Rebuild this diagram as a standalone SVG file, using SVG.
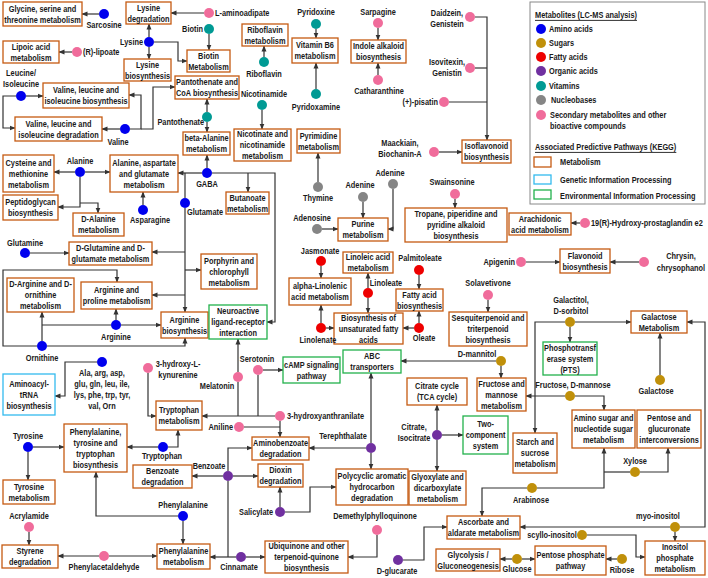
<svg xmlns="http://www.w3.org/2000/svg" width="708" height="578" viewBox="0 0 708 578">
<style>
text{font-family:"Liberation Sans",Arial,sans-serif;font-weight:bold;font-size:9px;fill:#1a1a1a;dominant-baseline:central;transform-box:fill-box;transform-origin:50% 50%;transform:scaleX(0.82)}
.m{text-anchor:middle}.e{text-anchor:end;transform-origin:100% 50%}.s{transform-origin:0% 50%}
.b{fill:#fff;stroke:#c55a11;stroke-width:1.3}
.g{fill:#fff;stroke:#22b14c;stroke-width:1.3}
.c{fill:#fff;stroke:#33bbee;stroke-width:1.3}
#conn polyline,#conn line{fill:none;stroke:#333;stroke-width:1.2}
.a{marker-end:url(#ah)}
.aa{fill:#0000ee}.su{fill:#c0900a}.fa{fill:#ee0000}.oa{fill:#7030a0}.vi{fill:#009a94}.nu{fill:#858585}.se{fill:#f06c9b}
</style>
<defs>
<marker id="ah" markerWidth="6" markerHeight="6" refX="5.5" refY="3" orient="auto" markerUnits="userSpaceOnUse"><path d="M0,0.5 L6,3 L0,5.5 z" fill="#333"/></marker>
</defs>
<rect width="708" height="578" fill="#fff"/>

<g id="conn">
<line class="a" x1="99" y1="14" x2="82" y2="14"/>
<line class="a" x1="204" y1="13" x2="171" y2="13"/>
<line class="a" x1="149" y1="37" x2="149" y2="24"/>
<line class="a" x1="149" y1="47" x2="149" y2="59"/>
<polyline class="a" points="154,42 178,42 178,61 187,61"/>
<line class="a" x1="209" y1="34" x2="209" y2="50"/>
<line class="a" x1="72" y1="52" x2="59" y2="52"/>
<line class="a" x1="264" y1="57" x2="264" y2="46"/>
<line class="a" x1="316" y1="29" x2="316" y2="38"/>
<line class="a" x1="316" y1="89" x2="316" y2="63"/>
<line class="a" x1="262" y1="110" x2="262" y2="129"/>
<line class="a" x1="378" y1="28" x2="378" y2="40"/>
<line class="a" x1="378" y1="75" x2="378" y2="63"/>
<polyline class="a" points="475,17 487,17 487,140"/>
<line x1="475" y1="68" x2="487" y2="68"/>
<line x1="449" y1="102" x2="487" y2="102"/>
<line class="a" x1="439" y1="152" x2="462" y2="152"/>
<line class="a" x1="26" y1="96" x2="43" y2="96"/>
<polyline class="a" points="16,96 3,96 3,128 15,128"/>
<line class="a" x1="120" y1="129" x2="102" y2="129"/>
<polyline class="a" points="130,129 141,129 141,95 129,95"/>
<polyline class="a" points="141,129 153,129 153,87 175,87"/>
<line class="a" x1="207" y1="112" x2="207" y2="99"/>
<line class="a" x1="207" y1="122" x2="207" y2="132"/>
<line class="a" x1="207" y1="168" x2="207" y2="155"/>
<line class="a" x1="202" y1="173" x2="178" y2="173"/>
<polyline class="a" points="212,173 275,173 275,322 267,322"/>
<line class="a" x1="248" y1="173" x2="248" y2="192"/>
<line x1="185" y1="173" x2="185" y2="198"/>
<line class="a" x1="185" y1="208" x2="185" y2="312"/>
<line class="a" x1="185" y1="252" x2="152" y2="252"/>
<line class="a" x1="185" y1="270" x2="201" y2="270"/>
<line class="a" x1="185" y1="295" x2="152" y2="295"/>
<line class="a" x1="75" y1="172" x2="54" y2="172"/>
<line class="a" x1="85" y1="172" x2="110" y2="172"/>
<polyline class="a" points="80,177 80,207 58,207"/>
<polyline class="a" points="80,203 98,203 98,213"/>
<line class="a" x1="143" y1="205" x2="143" y2="192"/>
<line class="a" x1="30" y1="253" x2="69" y2="253"/>
<line class="a" x1="42" y1="341" x2="42" y2="312"/>
<polyline class="a" points="47,346 185,346 185,338"/>
<polyline class="a" points="37,346 3,346 3,270 117,270 117,282"/>
<line x1="111" y1="325" x2="42" y2="325"/>
<line class="a" x1="121" y1="325" x2="161" y2="325"/>
<line class="a" x1="116" y1="320" x2="116" y2="309"/>
<line class="a" x1="318" y1="182" x2="318" y2="153"/>
<line class="a" x1="363" y1="202" x2="363" y2="218"/>
<polyline class="a" points="393,189 393,229 388,229"/>
<line class="a" x1="322" y1="229" x2="338" y2="229"/>
<line class="a" x1="455" y1="199" x2="455" y2="208"/>
<line class="a" x1="580" y1="223" x2="571" y2="223"/>
<line class="a" x1="526" y1="262" x2="560" y2="262"/>
<line class="a" x1="639" y1="262" x2="610" y2="262"/>
<line class="a" x1="321" y1="266" x2="321" y2="278"/>
<line class="a" x1="321" y1="323" x2="321" y2="305"/>
<line class="a" x1="326" y1="328" x2="334" y2="328"/>
<line class="a" x1="368" y1="288" x2="368" y2="273"/>
<line class="a" x1="368" y1="298" x2="368" y2="313"/>
<line class="a" x1="419" y1="275" x2="419" y2="289"/>
<line class="a" x1="419" y1="323" x2="419" y2="311"/>
<line class="a" x1="414" y1="328" x2="403" y2="328"/>
<line class="a" x1="488" y1="300" x2="488" y2="312"/>
<line class="a" x1="575" y1="322" x2="631" y2="322"/>
<line class="a" x1="570" y1="327" x2="570" y2="342"/>
<polyline class="a" points="565,322 535,322 535,433"/>
<line class="a" x1="263" y1="370" x2="283" y2="370"/>
<line class="a" x1="238" y1="372" x2="238" y2="339"/>
<line x1="258" y1="375" x2="258" y2="416"/>
<line x1="238" y1="382" x2="238" y2="416"/>
<line class="a" x1="275" y1="416" x2="202" y2="416"/>
<line class="a" x1="280" y1="421" x2="280" y2="437"/>
<line x1="244" y1="427" x2="280" y2="427"/>
<line class="a" x1="496" y1="361" x2="401" y2="361"/>
<line class="a" x1="501" y1="366" x2="501" y2="378"/>
<line class="a" x1="565" y1="396" x2="526" y2="396"/>
<polyline class="a" points="575,396 604,396 604,410"/>
<line class="a" x1="660" y1="375" x2="660" y2="333"/>
<line x1="630" y1="472" x2="604" y2="472"/>
<polyline class="a" points="640,472 668,472 668,448"/>
<polyline class="a" points="537,488 604,488 604,448"/>
<polyline class="a" points="527,488 482,488 482,516"/>
<line class="a" x1="670" y1="527" x2="520" y2="527"/>
<polyline class="a" points="680,527 705,527 705,322 687,322"/>
<line class="a" x1="675" y1="532" x2="675" y2="541"/>
<polyline class="a" points="587,535 636,535 636,557 645,557"/>
<line class="a" x1="437" y1="430" x2="437" y2="405"/>
<line class="a" x1="437" y1="440" x2="437" y2="471"/>
<line class="a" x1="442" y1="435" x2="463" y2="435"/>
<line class="a" x1="371" y1="443" x2="371" y2="373"/>
<line class="a" x1="366" y1="448" x2="309" y2="448"/>
<line class="a" x1="371" y1="453" x2="371" y2="469"/>
<line class="a" x1="223" y1="476" x2="192" y2="476"/>
<line class="a" x1="233" y1="476" x2="258" y2="476"/>
<polyline class="a" points="228,471 228,448 252,448"/>
<line x1="228" y1="481" x2="228" y2="557"/>
<line class="a" x1="280" y1="507" x2="280" y2="487"/>
<polyline class="a" points="285,512 310,512 310,487 336,487"/>
<line class="a" x1="236" y1="557" x2="210" y2="557"/>
<line class="a" x1="246" y1="557" x2="265" y2="557"/>
<polyline class="a" points="377,535 377,557 348,557"/>
<polyline class="a" points="403,560 424,560 424,527 447,527"/>
<line class="a" x1="512" y1="559" x2="500" y2="559"/>
<line class="a" x1="522" y1="559" x2="535" y2="559"/>
<line class="a" x1="617" y1="559" x2="606" y2="559"/>
<line class="a" x1="33" y1="447" x2="64" y2="447"/>
<line class="a" x1="28" y1="452" x2="28" y2="480"/>
<line class="a" x1="158" y1="447" x2="127" y2="447"/>
<polyline class="a" points="168,447 178,447 178,430"/>
<polyline class="a" points="148,373 148,416 156,416"/>
<polyline class="a" points="97,362 65,362 65,396 55,396"/>
<polyline class="a" points="178,516 96,516 96,472"/>
<line class="a" x1="183" y1="521" x2="183" y2="544"/>
<line class="a" x1="29" y1="532" x2="29" y2="545"/>
<line class="a" x1="99" y1="556" x2="58" y2="556"/>
<line class="a" x1="109" y1="556" x2="157" y2="556"/>
</g>

<g id="glycine"><rect class="b" x="3" y="2" width="79" height="24"/><text class="m"><tspan x="42.5" y="8.5">Glycine, serine and</tspan><tspan x="42.5" y="19.5">threonine metabolism</tspan></text></g>
<g id="lysdeg"><rect class="b" x="126" y="2" width="45" height="22"/><text class="m"><tspan x="148.5" y="7.5">Lysine</tspan><tspan x="148.5" y="18.5">degradation</tspan></text></g>
<g id="lipoic"><rect class="b" x="3" y="41" width="56" height="22"/><text class="m"><tspan x="31" y="46.5">Lipoic acid</tspan><tspan x="31" y="57.5">metabolism</tspan></text></g>
<g id="lysbio"><rect class="b" x="124" y="59" width="47" height="22"/><text class="m"><tspan x="147.5" y="64.5">Lysine</tspan><tspan x="147.5" y="75.5">biosynthesis</tspan></text></g>
<g id="biotinmet"><rect class="b" x="187" y="50" width="43" height="22"/><text class="m"><tspan x="208.5" y="55.5">Biotin</tspan><tspan x="208.5" y="66.5">Metabolism</tspan></text></g>
<g id="ribomet"><rect class="b" x="242" y="24" width="46" height="22"/><text class="m"><tspan x="265" y="29.5">Riboflavin</tspan><tspan x="265" y="40.5">metabolism</tspan></text></g>
<g id="vitb6"><rect class="b" x="292" y="38" width="46" height="25"/><text class="m"><tspan x="315" y="45">Vitamin B6</tspan><tspan x="315" y="56">metabolism</tspan></text></g>
<g id="indole"><rect class="b" x="351" y="40" width="55" height="23"/><text class="m"><tspan x="378.5" y="46">Indole alkaloid</tspan><tspan x="378.5" y="57">biosynthesis</tspan></text></g>
<g id="isoflav"><rect class="b" x="462" y="140" width="49" height="23"/><text class="m"><tspan x="486.5" y="146">Isoflavonoid</tspan><tspan x="486.5" y="157">biosynthesis</tspan></text></g>
<g id="valbio"><rect class="b" x="43" y="83" width="86" height="25"/><text class="m"><tspan x="86" y="90">Valine, leucine and</tspan><tspan x="86" y="101">isoleucine biosynthesis</tspan></text></g>
<g id="valdeg"><rect class="b" x="15" y="117" width="87" height="24"/><text class="m"><tspan x="58.5" y="123.5">Valine, leucine and</tspan><tspan x="58.5" y="134.5">isoleucine degradation</tspan></text></g>
<g id="panto"><rect class="b" x="175" y="76" width="64" height="23"/><text class="m"><tspan x="207" y="82">Pantothenate and</tspan><tspan x="207" y="93">CoA biosynthesis</tspan></text></g>
<g id="betaala"><rect class="b" x="183" y="132" width="47" height="23"/><text class="m"><tspan x="206.5" y="138">beta-Alanine</tspan><tspan x="206.5" y="149">metabolism</tspan></text></g>
<g id="nicotinate"><rect class="b" x="234" y="129" width="57" height="32"/><text class="m"><tspan x="262.5" y="134">Nicotinate and</tspan><tspan x="262.5" y="145">nicotinamide</tspan><tspan x="262.5" y="156">metabolism</tspan></text></g>
<g id="pyrimidine"><rect class="b" x="297" y="129" width="43" height="24"/><text class="m"><tspan x="318.5" y="135.5">Pyrimidine</tspan><tspan x="318.5" y="146.5">metabolism</tspan></text></g>
<g id="cysteine"><rect class="b" x="3" y="155" width="51" height="37"/><text class="m"><tspan x="28.5" y="162.5">Cysteine and</tspan><tspan x="28.5" y="173.5">methionine</tspan><tspan x="28.5" y="184.5">metabolism</tspan></text></g>
<g id="alaasp"><rect class="b" x="110" y="155" width="68" height="37"/><text class="m"><tspan x="144" y="162.5">Alanine, aspartate</tspan><tspan x="144" y="173.5">and glutamate</tspan><tspan x="144" y="184.5">metabolism</tspan></text></g>
<g id="peptido"><rect class="b" x="3" y="195" width="55" height="25"/><text class="m"><tspan x="30.5" y="202">Peptidoglycan</tspan><tspan x="30.5" y="213">biosynthesis</tspan></text></g>
<g id="dala"><rect class="b" x="73" y="213" width="51" height="23"/><text class="m"><tspan x="98.5" y="219">D-Alanine</tspan><tspan x="98.5" y="230">metabolism</tspan></text></g>
<g id="butanoate"><rect class="b" x="226" y="192" width="43" height="22"/><text class="m"><tspan x="247.5" y="197.5">Butanoate</tspan><tspan x="247.5" y="208.5">metabolism</tspan></text></g>
<g id="purine"><rect class="b" x="338" y="218" width="50" height="23"/><text class="m"><tspan x="363" y="224">Purine</tspan><tspan x="363" y="235">metabolism</tspan></text></g>
<g id="tropane"><rect class="b" x="405" y="208" width="102" height="34"/><text class="m"><tspan x="456" y="214">Tropane, piperidine and</tspan><tspan x="456" y="225">pyridine alkaloid</tspan><tspan x="456" y="236">biosynthesis</tspan></text></g>
<g id="arachidonic"><rect class="b" x="509" y="213" width="62" height="22"/><text class="m"><tspan x="540" y="218.5">Arachidonic</tspan><tspan x="540" y="229.5">acid metabolism</tspan></text></g>
<g id="dglutamine"><rect class="b" x="69" y="242" width="83" height="23"/><text class="m"><tspan x="110.5" y="248">D-Glutamine and D-</tspan><tspan x="110.5" y="259">glutamate metabolism</tspan></text></g>
<g id="linoleic"><rect class="b" x="343" y="252" width="50" height="21"/><text class="m"><tspan x="368" y="257">Linoleic acid</tspan><tspan x="368" y="268">metabolism</tspan></text></g>
<g id="flavonoid"><rect class="b" x="560" y="249" width="50" height="24"/><text class="m"><tspan x="585" y="255.5">Flavonoid</tspan><tspan x="585" y="266.5">biosynthesis</tspan></text></g>
<g id="porphyrin"><rect class="b" x="201" y="254" width="56" height="35"/><text class="m"><tspan x="229" y="260.5">Porphyrin and</tspan><tspan x="229" y="271.5">chlorophyll</tspan><tspan x="229" y="282.5">metabolism</tspan></text></g>
<g id="darginine"><rect class="b" x="7" y="278" width="67" height="34"/><text class="m"><tspan x="40.5" y="284">D-Arginine and D-</tspan><tspan x="40.5" y="295">ornithine</tspan><tspan x="40.5" y="306">metabolism</tspan></text></g>
<g id="argpro"><rect class="b" x="81" y="282" width="71" height="27"/><text class="m"><tspan x="116.5" y="290">Arginine and</tspan><tspan x="116.5" y="301">proline metabolism</tspan></text></g>
<g id="alphalin"><rect class="b" x="289" y="278" width="62" height="27"/><text class="m"><tspan x="320" y="286">alpha-Linolenic</tspan><tspan x="320" y="297">acid metabolism</tspan></text></g>
<g id="fattyacid"><rect class="b" x="396" y="289" width="47" height="22"/><text class="m"><tspan x="419.5" y="294.5">Fatty acid</tspan><tspan x="419.5" y="305.5">biosynthesis</tspan></text></g>
<g id="sesqui"><rect class="b" x="449" y="312" width="78" height="34"/><text class="m"><tspan x="488" y="318">Sesquiterpenoid and</tspan><tspan x="488" y="329">triterpenoid</tspan><tspan x="488" y="340">biosynthesis</tspan></text></g>
<g id="galactosemet"><rect class="b" x="631" y="311" width="56" height="22"/><text class="m"><tspan x="659" y="316.5">Galactose</tspan><tspan x="659" y="327.5">Metabolism</tspan></text></g>
<g id="argbio"><rect class="b" x="161" y="312" width="47" height="26"/><text class="m"><tspan x="184.5" y="319.5">Arginine</tspan><tspan x="184.5" y="330.5">biosynthesis</tspan></text></g>
<g id="neuro"><rect class="g" x="209" y="305" width="58" height="34"/><text class="m"><tspan x="238" y="311">Neuroactive</tspan><tspan x="238" y="322">ligand-receptor</tspan><tspan x="238" y="333">interaction</tspan></text></g>
<g id="unsat"><rect class="b" x="334" y="313" width="69" height="31"/><text class="m"><tspan x="368.5" y="317.5">Biosynthesis of</tspan><tspan x="368.5" y="328.5">unsaturated fatty</tspan><tspan x="368.5" y="339.5">acids</tspan></text></g>
<g id="pts"><rect class="g" x="543" y="342" width="54" height="33"/><text class="m"><tspan x="570" y="347.5">Phosphotransf</tspan><tspan x="570" y="358.5">erase system</tspan><tspan x="570" y="369.5">(PTS)</tspan></text></g>
<g id="abc"><rect class="g" x="343" y="350" width="58" height="23"/><text class="m"><tspan x="372" y="356">ABC</tspan><tspan x="372" y="367">transporters</tspan></text></g>
<g id="camp"><rect class="g" x="283" y="357" width="57" height="26"/><text class="m"><tspan x="311.5" y="364.5">cAMP signaling</tspan><tspan x="311.5" y="375.5">pathway</tspan></text></g>
<g id="aminoacyl"><rect class="c" x="3" y="374" width="52" height="41"/><text class="m"><tspan x="29" y="383.5">Aminoacyl-</tspan><tspan x="29" y="394.5">tRNA</tspan><tspan x="29" y="405.5">biosynthesis</tspan></text></g>
<g id="tca"><rect class="b" x="407" y="378" width="60" height="27"/><text class="m"><tspan x="437" y="386">Citrate cycle</tspan><tspan x="437" y="397">(TCA cycle)</tspan></text></g>
<g id="fructosemet"><rect class="b" x="477" y="378" width="49" height="33"/><text class="m"><tspan x="501.5" y="383.5">Fructose and</tspan><tspan x="501.5" y="394.5">mannose</tspan><tspan x="501.5" y="405.5">metabolism</tspan></text></g>
<g id="trpmet"><rect class="b" x="156" y="401" width="46" height="29"/><text class="m"><tspan x="179" y="410">Tryptophan</tspan><tspan x="179" y="421">metabolism</tspan></text></g>
<g id="aminosugar"><rect class="b" x="572" y="410" width="63" height="38"/><text class="m"><tspan x="603.5" y="418">Amino sugar and</tspan><tspan x="603.5" y="429">nucleotide sugar</tspan><tspan x="603.5" y="440">metabolism</tspan></text></g>
<g id="pentose"><rect class="b" x="637" y="410" width="64" height="38"/><text class="m"><tspan x="669" y="418">Pentose and</tspan><tspan x="669" y="429">glucuronate</tspan><tspan x="669" y="440">interconversions</tspan></text></g>
<g id="twocomp"><rect class="g" x="463" y="416" width="45" height="38"/><text class="m"><tspan x="485.5" y="424">Two-</tspan><tspan x="485.5" y="435">component</tspan><tspan x="485.5" y="446">system</tspan></text></g>
<g id="phetyrtrp"><rect class="b" x="64" y="424" width="63" height="48"/><text class="m"><tspan x="95.5" y="431.5">Phenylalanine,</tspan><tspan x="95.5" y="442.5">tyrosine and</tspan><tspan x="95.5" y="453.5">tryptophan</tspan><tspan x="95.5" y="464.5">biosynthesis</tspan></text></g>
<g id="starch"><rect class="b" x="513" y="433" width="44" height="40"/><text class="m"><tspan x="535" y="442">Starch and</tspan><tspan x="535" y="453">sucrose</tspan><tspan x="535" y="464">metabolism</tspan></text></g>
<g id="aminobenzoate"><rect class="b" x="252" y="437" width="57" height="23"/><text class="m"><tspan x="280.5" y="443">Aminobenzoate</tspan><tspan x="280.5" y="454">degradation</tspan></text></g>
<g id="benzoatedeg"><rect class="b" x="133" y="465" width="59" height="23"/><text class="m"><tspan x="162.5" y="471">Benzoate</tspan><tspan x="162.5" y="482">degradation</tspan></text></g>
<g id="dioxin"><rect class="b" x="258" y="464" width="45" height="23"/><text class="m"><tspan x="280.5" y="470">Dioxin</tspan><tspan x="280.5" y="481">degradation</tspan></text></g>
<g id="polycyclic"><rect class="b" x="336" y="469" width="72" height="36"/><text class="m"><tspan x="372" y="476">Polycyclic aromatic</tspan><tspan x="372" y="487">hydrocarbon</tspan><tspan x="372" y="498">degradation</tspan></text></g>
<g id="glyoxylate"><rect class="b" x="409" y="471" width="57" height="34"/><text class="m"><tspan x="437.5" y="477">Glyoxylate and</tspan><tspan x="437.5" y="488">dicarboxylate</tspan><tspan x="437.5" y="499">metabolism</tspan></text></g>
<g id="tyrmet"><rect class="b" x="3" y="480" width="52" height="24"/><text class="m"><tspan x="29" y="486.5">Tyrosine</tspan><tspan x="29" y="497.5">metabolism</tspan></text></g>
<g id="ascorbate"><rect class="b" x="447" y="516" width="73" height="23"/><text class="m"><tspan x="483.5" y="522">Ascorbate and</tspan><tspan x="483.5" y="533">aldarate metabolism</tspan></text></g>
<g id="styrene"><rect class="b" x="2" y="545" width="56" height="23"/><text class="m"><tspan x="30" y="551">Styrene</tspan><tspan x="30" y="562">degradation</tspan></text></g>
<g id="phemet"><rect class="b" x="157" y="544" width="53" height="25"/><text class="m"><tspan x="183.5" y="551">Phenylalanine</tspan><tspan x="183.5" y="562">metabolism</tspan></text></g>
<g id="ubiquinone"><rect class="b" x="265" y="541" width="83" height="32"/><text class="m"><tspan x="306.5" y="546">Ubiquinone and other</tspan><tspan x="306.5" y="557">terpenoid-quinone</tspan><tspan x="306.5" y="568">biosynthesis</tspan></text></g>
<g id="glycolysis"><rect class="b" x="436" y="549" width="64" height="22"/><text class="m"><tspan x="468" y="554.5">Glycolysis /</tspan><tspan x="468" y="565.5">Gluconeogenesis</tspan></text></g>
<g id="ppp"><rect class="b" x="535" y="546" width="71" height="29"/><text class="m"><tspan x="570.5" y="555">Pentose phosphate</tspan><tspan x="570.5" y="566">pathway</tspan></text></g>
<g id="inositolmet"><rect class="b" x="645" y="541" width="60" height="34"/><text class="m"><tspan x="675" y="547">Inositol</tspan><tspan x="675" y="558">phosphate</tspan><tspan x="675" y="569">metabolism</tspan></text></g>

<g id="sarcosine"><circle class="aa" cx="104" cy="14" r="5"/><text class="m" x="104" y="25">Sarcosine</text></g>
<g id="laminoadipate"><circle class="se" cx="209" cy="13" r="5"/><text class="s" x="215" y="13">L-aminoadipate</text></g>
<g id="lysine"><circle class="aa" cx="149" cy="42" r="5"/><text class="e" x="143" y="42">Lysine</text></g>
<g id="biotin"><circle class="vi" cx="209" cy="29" r="5"/><text class="e" x="203" y="29">Biotin</text></g>
<g id="lipoate"><circle class="se" cx="77" cy="52" r="5"/><text class="s" x="83" y="52">(R)-lipoate</text></g>
<g id="riboflavin"><circle class="vi" cx="264" cy="62" r="5"/><text class="m" x="264" y="74">Riboflavin</text></g>
<g id="pyridoxine"><circle class="vi" cx="316" cy="24" r="5"/><text class="m" x="316" y="12">Pyridoxine</text></g>
<g id="pyridoxamine"><circle class="vi" cx="316" cy="94" r="5"/><text class="m" x="316" y="107">Pyridoxamine</text></g>
<g id="nicotinamide"><circle class="vi" cx="262" cy="105" r="5"/><text class="m" x="264" y="94">Nicotinamide</text></g>
<g id="sarpagine"><circle class="se" cx="378" cy="23" r="5"/><text class="m" x="378" y="12">Sarpagine</text></g>
<g id="catharanthine"><circle class="se" cx="378" cy="80" r="5"/><text class="m" x="379" y="91">Catharanthine</text></g>
<g id="daidzein"><circle class="se" cx="470" cy="17" r="5"/><text class="m"><tspan x="447" y="13">Daidzein,</tspan><tspan x="447" y="24">Genistein</tspan></text></g>
<g id="isovitexin"><circle class="se" cx="470" cy="68" r="5"/><text class="m"><tspan x="447" y="62">Isovitexin,</tspan><tspan x="447" y="73">Genistin</tspan></text></g>
<g id="pisatin"><circle class="se" cx="444" cy="102" r="5"/><text class="e" x="438" y="102">(+)-pisatin</text></g>
<g id="maackiain"><circle class="se" cx="434" cy="152" r="5"/><text class="m"><tspan x="400" y="143">Maackiain,</tspan><tspan x="400" y="154">Biochanin-A</tspan></text></g>
<g id="leucine"><circle class="aa" cx="21" cy="96" r="5"/><text class="m"><tspan x="21" y="73">Leucine/</tspan><tspan x="21" y="84">Isoleucine</tspan></text></g>
<g id="valine"><circle class="aa" cx="125" cy="129" r="5"/><text class="m" x="118" y="142">Valine</text></g>
<g id="pantothenate"><circle class="vi" cx="207" cy="117" r="5"/><text class="e" x="204" y="122">Pantothenate</text></g>
<g id="alanine"><circle class="aa" cx="80" cy="172" r="5"/><text class="m" x="80" y="161">Alanine</text></g>
<g id="gaba"><circle class="aa" cx="207" cy="173" r="5"/><text class="m" x="207" y="184">GABA</text></g>
<g id="glutamate"><circle class="aa" cx="185" cy="203" r="5"/><text class="m" x="205" y="212">Glutamate</text></g>
<g id="asparagine"><circle class="aa" cx="143" cy="210" r="5"/><text class="m" x="150" y="220">Asparagine</text></g>
<g id="thymine"><circle class="nu" cx="318" cy="187" r="5"/><text class="m" x="318" y="198">Thymine</text></g>
<g id="adenine1"><circle class="nu" cx="363" cy="197" r="5"/><text class="m" x="360" y="185">Adenine</text></g>
<g id="adenine2"><circle class="nu" cx="393" cy="184" r="5"/><text class="m" x="390" y="173">Adenine</text></g>
<g id="adenosine"><circle class="nu" cx="317" cy="229" r="5"/><text class="m" x="312" y="218">Adenosine</text></g>
<g id="swainsonine"><circle class="se" cx="455" cy="194" r="5"/><text class="m" x="452" y="182">Swainsonine</text></g>
<g id="prostaglandin"><circle class="se" cx="585" cy="223" r="5"/><text class="s" x="591" y="223">19(R)-Hydroxy-prostaglandin e2</text></g>
<g id="glutamine"><circle class="aa" cx="25" cy="253" r="5"/><text class="m" x="25" y="243">Glutamine</text></g>
<g id="jasmonate"><circle class="fa" cx="321" cy="261" r="5"/><text class="m" x="320" y="251">Jasmonate</text></g>
<g id="apigenin"><circle class="se" cx="521" cy="262" r="5"/><text class="e" x="515" y="262">Apigenin</text></g>
<g id="chrysin"><circle class="se" cx="644" cy="262" r="5"/><text class="m"><tspan x="681" y="256">Chrysin,</tspan><tspan x="681" y="268">chrysophanol</tspan></text></g>
<g id="palmitoleate"><circle class="fa" cx="419" cy="270" r="5"/><text class="m" x="420" y="258">Palmitoleate</text></g>
<g id="solavetivone"><circle class="se" cx="488" cy="295" r="5"/><text class="m" x="488" y="283">Solavetivone</text></g>
<g id="linoleate"><circle class="fa" cx="368" cy="293" r="5"/><text class="m" x="386" y="283">Linoleate</text></g>
<g id="galactitol"><circle class="su" cx="570" cy="322" r="5"/><text class="m"><tspan x="571" y="300">Galactitol,</tspan><tspan x="571" y="311">D-sorbitol</tspan></text></g>
<g id="arginine"><circle class="aa" cx="116" cy="325" r="5"/><text class="m" x="116" y="337">Arginine</text></g>
<g id="linolenate"><circle class="fa" cx="321" cy="328" r="5"/><text class="m" x="318" y="340">Linolenate</text></g>
<g id="oleate"><circle class="fa" cx="419" cy="328" r="5"/><text class="m" x="424" y="338">Oleate</text></g>
<g id="ornithine"><circle class="aa" cx="42" cy="346" r="5"/><text class="m" x="42" y="358">Ornithine</text></g>
<g id="serotonin"><circle class="se" cx="258" cy="370" r="5"/><text class="m" x="257" y="359">Serotonin</text></g>
<g id="dmannitol"><circle class="su" cx="501" cy="361" r="5"/><text class="m" x="477" y="354">D-mannitol</text></g>
<g id="aagroup"><circle class="aa" cx="102" cy="362" r="5"/><text class="m"><tspan x="102" y="373">Ala, arg, asp,</tspan><tspan x="102" y="384">glu, gln, leu, ile,</tspan><tspan x="102" y="395">lys, phe, trp, tyr,</tspan><tspan x="102" y="406">val, Orn</tspan></text></g>
<g id="kynurenine"><circle class="se" cx="148" cy="368" r="5"/><text class="m"><tspan x="178" y="364">3-hydroxy-L-</tspan><tspan x="178" y="375">kynurenine</tspan></text></g>
<g id="melatonin"><circle class="se" cx="238" cy="377" r="5"/><text class="m" x="217" y="386">Melatonin</text></g>
<g id="galactose"><circle class="su" cx="660" cy="380" r="5"/><text class="m" x="656" y="391">Galactose</text></g>
<g id="fructose"><circle class="su" cx="570" cy="396" r="5"/><text class="m" x="573" y="385">Fructose, D-mannose</text></g>
<g id="hydroxyanthranilate"><circle class="se" cx="280" cy="416" r="5"/><text class="s" x="287" y="416">3-hydroxyanthranilate</text></g>
<g id="aniline"><circle class="se" cx="239" cy="427" r="5"/><text class="e" x="233" y="427">Aniline</text></g>
<g id="citrate"><circle class="oa" cx="437" cy="435" r="5"/><text class="m"><tspan x="414" y="427">Citrate,</tspan><tspan x="414" y="438">Isocitrate</tspan></text></g>
<g id="terephthalate"><circle class="oa" cx="371" cy="448" r="5"/><text class="m" x="343" y="436">Terephthalate</text></g>
<g id="tyrosine"><circle class="aa" cx="28" cy="447" r="5"/><text class="m" x="28" y="436">Tyrosine</text></g>
<g id="tryptophan"><circle class="aa" cx="163" cy="447" r="5"/><text class="m" x="162" y="456">Tryptophan</text></g>
<g id="benzoate"><circle class="oa" cx="228" cy="476" r="5"/><text class="m" x="209" y="466">Benzoate</text></g>
<g id="xylose"><circle class="su" cx="635" cy="472" r="5"/><text class="m" x="635" y="461">Xylose</text></g>
<g id="arabinose"><circle class="su" cx="532" cy="488" r="5"/><text class="m" x="531" y="500">Arabinose</text></g>
<g id="phenylalanine"><circle class="aa" cx="183" cy="516" r="5"/><text class="m" x="183" y="505">Phenylalanine</text></g>
<g id="salicylate"><circle class="oa" cx="280" cy="512" r="5"/><text class="e" x="273" y="512">Salicylate</text></g>
<g id="demethyl"><circle class="se" cx="377" cy="530" r="5"/><text class="m" x="375" y="516">Demethylphylloquinone</text></g>
<g id="myoinositol"><circle class="su" cx="675" cy="527" r="5"/><text class="m" x="658" y="516">myo-inositol</text></g>
<g id="acrylamide"><circle class="se" cx="29" cy="527" r="5"/><text class="m" x="29" y="516">Acrylamide</text></g>
<g id="scyllo"><circle class="su" cx="582" cy="535" r="5"/><text class="m" x="552" y="535">scyllo-inositol</text></g>
<g id="phenylacetaldehyde"><circle class="se" cx="104" cy="556" r="5"/><text class="m" x="104" y="567">Phenylacetaldehyde</text></g>
<g id="cinnamate"><circle class="oa" cx="241" cy="557" r="5"/><text class="m" x="239" y="567">Cinnamate</text></g>
<g id="glucose"><circle class="su" cx="517" cy="559" r="5"/><text class="m" x="517" y="569">Glucose</text></g>
<g id="dglucarate"><circle class="oa" cx="398" cy="560" r="5"/><text class="m" x="397" y="571">D-glucarate</text></g>
<g id="ribose"><circle class="su" cx="622" cy="559" r="5"/><text class="m" x="622" y="570">Ribose</text></g>

<g id="legend">
<rect x="530" y="2" width="175" height="202" fill="#fff" stroke="#888" stroke-width="1"/>
<text class="s" x="535" y="15" text-decoration="underline">Metabolites (LC-MS analysis)</text>
<circle class="aa" cx="541" cy="29" r="5"/><text class="s" x="549" y="29">Amino acids</text>
<circle class="su" cx="541" cy="43" r="5"/><text class="s" x="549" y="43">Sugars</text>
<circle class="fa" cx="541" cy="57" r="5"/><text class="s" x="549" y="57">Fatty acids</text>
<circle class="oa" cx="541" cy="71" r="5"/><text class="s" x="549" y="71">Organic acids</text>
<circle class="vi" cx="541" cy="86" r="5"/><text class="s" x="549" y="86">Vitamins</text>
<circle class="nu" cx="541" cy="100" r="5"/><text class="s" x="551" y="100">Nucleobases</text>
<circle class="se" cx="541" cy="115" r="5"/><text class="s" x="550" y="115">Secondary metabolites and other</text><text class="s" x="550" y="126">bioactive compounds</text>
<text class="s" x="535" y="147" text-decoration="underline">Associated Predictive Pathways (KEGG)</text>
<rect class="b" x="534" y="157" width="17" height="10"/><text class="s" x="560" y="162">Metabolism</text>
<rect class="c" x="534" y="175" width="17" height="9"/><text class="s" x="560" y="180">Genetic Information Processing</text>
<rect class="g" x="534" y="190" width="17" height="9"/><text class="s" x="560" y="196">Environmental Information Processing</text>
</g>
</svg>
